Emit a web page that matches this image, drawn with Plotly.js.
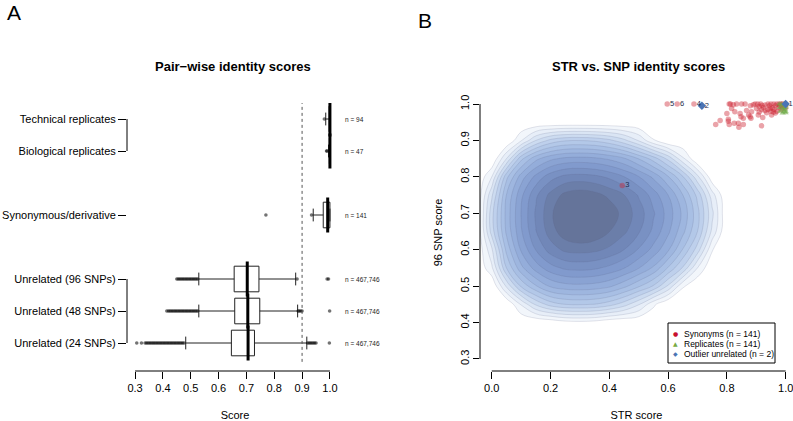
<!DOCTYPE html>
<html><head><meta charset="utf-8">
<script src="https://cdn.plot.ly/plotly-3.0.1.min.js"></script>
<style>html,body{margin:0;padding:0;background:#fff;overflow:hidden}#chart{width:800px;height:421px}</style>
</head><body><div id="chart"></div>
<script>
// ---------- Panel A: pair-wise identity scores ----------
const categories = ['Technical replicates','Biological replicates','Synonymous/derivative','Unrelated (96 SNPs)','Unrelated (48 SNPs)','Unrelated (24 SNPs)'];
const catPos = [8, 7, 5, 3, 2, 1];
const nLabels = ['n = 94','n = 47','n = 141','n = 467,746','n = 467,746','n = 467,746'];
const boxLow    = [0.985, 0.995, 0.940, 0.529, 0.529, 0.482];
const boxQ1     = [0.997, 0.998, 0.976, 0.656, 0.658, 0.646];
const boxMedian = [1.000, 1.000, 0.992, 0.703, 0.705, 0.706];
const boxQ3     = [1.000, 1.000, 1.000, 0.745, 0.748, 0.729];
const boxHigh   = [1.000, 1.000, 1.000, 0.877, 0.884, 0.917];
const outTech = [0.980];
const outBio  = [0.988, 0.990];
const outSyn  = [0.770, 0.934];
const outU96  = [0.450,0.455,0.460,0.465,0.470,0.475,0.480,0.485,0.490,0.495,0.500,0.505,0.510,0.515,0.520,0.525,0.882,0.990,0.995];
const outU48  = [0.414,0.420,0.425,0.430,0.435,0.440,0.445,0.450,0.455,0.460,0.465,0.470,0.475,0.480,0.485,0.490,0.495,0.500,0.505,0.510,0.515,0.520,0.525,0.886,0.890,0.895,0.900,0.999];
const outU24  = [0.306,0.323,0.336,0.341,0.346,0.351,0.356,0.361,0.366,0.371,0.376,0.381,0.386,0.391,0.396,0.401,0.406,0.411,0.416,0.421,0.426,0.431,0.436,0.441,0.446,0.451,0.456,0.461,0.466,0.471,0.476,0.920,0.925,0.930,0.935,0.940,0.945,0.950,0.998];
const identityThreshold = 0.9;
const scoreTicks = [0.3,0.4,0.5,0.6,0.7,0.8,0.9,1.0];

// ---------- Panel B: STR vs SNP identity ----------
const strGrid = [-0.05,0,0.05,0.1,0.15,0.2,0.25,0.3,0.35,0.4,0.45,0.5,0.55,0.6,0.65,0.7,0.75,0.8];
const snpGrid = [0.35,0.4,0.45,0.5,0.55,0.6,0.65,0.7,0.75,0.8,0.85,0.9,0.95];
const densityZ = [
 [0,0,0,0,0,0,0,0,0,0,0,0,0,0,0,0,0,0],
 [0,0,0,0,0,0.17,0.57,0.65,0.52,0.12,0,0,0,0,0,0,0,0],
 [0,0,0,2.1,4.17,5.46,6.0,6.1,5.97,5.43,4.47,3.1,1.22,0,0,0,0,0],
 [0,0,3.17,6.16,7.9,9.17,9.63,9.73,9.6,9.2,8.3,7.15,5.9,3.83,1.15,0,0,0],
 [0,1.8,6.0,8.7,10.47,11.6,12.2,12.33,12.18,11.74,11.06,10.06,8.84,6.92,4.9,2.0,0,0],
 [0,2.8,7.28,10.15,12.05,13.48,14.23,14.38,14.24,13.79,13.0,11.9,10.66,9.17,6.94,4.53,1.08,0],
 [0,4.45,8.2,10.88,12.96,14.5,15.65,16.1,15.77,15.02,14.22,13.12,11.75,10.22,8.3,6.0,2.74,0],
 [0,4.63,8.35,11.05,13.15,14.74,16.3,17.0,16.5,15.67,14.61,13.54,12.13,10.58,8.78,6.34,3.25,0],
 [0,3.8,8.03,10.75,12.8,14.3,15.3,15.62,15.36,14.75,14.02,12.89,11.53,10.0,8.02,5.71,2.45,0],
 [0,2.0,6.7,9.5,11.3,12.6,13.3,13.43,13.27,12.8,12.03,11.06,9.78,8.1,6.12,3.3,0.25,0],
 [0,0,3.0,6.7,8.7,9.75,10.25,10.37,10.23,9.82,9.16,7.95,6.54,4.73,2.22,0,0,0],
 [0,0,0,1.9,4.0,5.3,5.9,5.97,5.8,5.26,4.28,2.9,1.1,0,0,0,0,0],
 [0,0,0,0,0,0,0,0,0,0,0,0,0,0,0,0,0,0]
];
const synSTR = [0.444,0.688,0.597,0.631,0.762,0.777,0.800,0.805,0.805,0.808,0.808,0.812,0.816,0.822,0.825,0.827,0.833,0.839,0.841,0.845,0.848,0.850,0.856,0.856,0.862,0.867,0.874,0.879,0.882,0.884,0.896,0.901,0.907,0.918,0.918,0.922,0.930,0.935,0.947,0.952,0.880,0.890,0.905,0.910,0.915,0.920,0.925,0.940,0.945,0.950,0.955,0.960,0.960,0.965,0.970,0.970,0.975,0.978,0.980,0.985,0.990,0.990,0.995,1.000,1.000,0.958,0.940,0.930,0.910,0.965,0.985,0.950];
const synSNP = [0.776,1.000,1.000,1.000,0.944,0.955,0.974,0.953,0.958,0.944,1.000,1.000,0.988,0.998,0.947,0.979,1.000,0.947,0.936,0.974,0.965,1.000,0.944,0.961,1.000,0.982,0.970,0.965,0.961,0.979,1.000,0.988,0.970,0.984,0.940,0.963,0.997,0.976,0.988,0.970,0.995,0.998,1.000,0.993,1.000,0.996,0.990,1.000,0.995,1.000,0.990,1.000,0.985,0.995,1.000,0.980,0.990,1.000,0.995,1.000,0.990,1.000,0.995,1.000,0.990,0.978,0.985,0.982,0.978,0.975,0.985,0.980];
const repSTR = [0.978,0.980,0.982,0.985,0.988,0.990,0.990,0.993,0.995,0.995,0.998,1.000,1.000,1.000,1.000,1.000];
const repSNP = [1.000,0.990,0.980,1.000,0.995,0.985,0.975,1.000,0.990,0.980,0.985,1.000,0.995,0.990,0.980,0.976];
const outlierSTR = [1.000, 0.715];
const outlierSNP = [1.000, 0.995];
const labelSTR  = [1.000, 0.715, 0.444, 0.688, 0.597, 0.631];
const labelSNP  = [1.000, 0.995, 0.776, 1.000, 1.000, 1.000];
const labelText = ['1','2','3','4','5','6'];
const legendNames = ['Synonyms (n = 141)','Replicates (n = 141)','Outlier unrelated (n = 2)'];
const strTicks = [0,0.2,0.4,0.6,0.8,1.0];
const snpTicks = [0.3,0.4,0.5,0.6,0.7,0.8,0.9,1.0];

const W = 793, H = 421, EXTRA = 7;
const px = v => v / W, py = v => 1 - v / H;
const FONT = 'Liberation Sans, Arial, Helvetica, sans-serif';
const RED = 'rgba(205,35,50,0.42)', GREEN = 'rgba(110,170,70,0.6)', BLUE = '#4a74b4';

// outliers flattened
const outGroups = [outTech, outBio, outSyn, outU96, outU48, outU24];
const outX = [], outY = [];
outGroups.forEach((g, i) => g.forEach(v => { outX.push(v); outY.push(catPos[i]); }));

const traces = [
  {type:'box', orientation:'h', y:catPos, q1:boxQ1, median:boxMedian, q3:boxQ3,
   lowerfence:boxLow, upperfence:boxHigh, width:0.8, whiskerwidth:0.5, boxpoints:false,
   fillcolor:'#ffffff', line:{color:'#222', width:1}, xaxis:'x', yaxis:'y', hoverinfo:'skip', showlegend:false},
  {type:'scatter', mode:'markers', x:boxMedian, y:catPos, xaxis:'x', yaxis:'y', hoverinfo:'skip', showlegend:false,
   marker:{symbol:'line-ns-open', size:25, color:'#000', line:{width:3, color:'#000'}}},
  {type:'scatter', mode:'markers', x:outX, y:outY, xaxis:'x', yaxis:'y', hoverinfo:'skip', showlegend:false,
   marker:{size:3.6, color:'rgba(0,0,0,0.55)'}},
  {type:'contour', x:strGrid, y:snpGrid, z:densityZ, xaxis:'x2', yaxis:'y2', hoverinfo:'skip', showscale:false,
   zauto:false, zmin:0.5, zmax:15.5,
   contours:{start:1, end:15, size:1, coloring:'fill', showlines:true},
   line:{color:'rgba(90,100,135,0.28)', width:0.6, smoothing:1.1},
   colorscale:[[0,'rgba(255,255,255,0)'],[0.0667,'rgb(242,246,251)'],[0.133,'rgb(231,238,248)'],[0.2,'rgb(218,229,244)'],
               [0.267,'rgb(204,219,240)'],[0.333,'rgb(190,208,236)'],[0.467,'rgb(168,191,228)'],[0.6,'rgb(148,173,218)'],
               [0.733,'rgb(129,154,205)'],[0.867,'rgb(113,135,184)'],[1,'rgb(101,116,154)']]},
  {type:'scatter', mode:'markers', name:legendNames[0], x:synSTR, y:synSNP, xaxis:'x2', yaxis:'y2', hoverinfo:'skip', showlegend:false,
   marker:{size:5.5, color:RED}, cliponaxis:false},
  {type:'scatter', mode:'markers', name:legendNames[1], x:repSTR, y:repSNP, xaxis:'x2', yaxis:'y2', hoverinfo:'skip', showlegend:false,
   marker:{size:5.5, symbol:'triangle-up', color:GREEN}, cliponaxis:false},
  {type:'scatter', mode:'markers', name:legendNames[2], x:outlierSTR, y:outlierSNP, xaxis:'x2', yaxis:'y2', hoverinfo:'skip', showlegend:false,
   marker:{size:6.5, symbol:'diamond', color:BLUE}, cliponaxis:false},
  {type:'scatter', mode:'markers+text', x:labelSTR, y:labelSNP, text:labelText, textposition:'middle right',
   textfont:{size:7.5, color:'#1d2b4a', family:FONT}, marker:{size:3, color:'rgba(0,0,0,0)'},
   xaxis:'x2', yaxis:'y2', hoverinfo:'skip', showlegend:false, cliponaxis:false}
];

const axisCommon = {showgrid:false, zeroline:false, showline:false, ticks:'outside', tickcolor:'#000', tickwidth:1,
  tickfont:{size:11, color:'#000', family:FONT}, fixedrange:true, ticklabeloverflow:'allow'};

const layout = {
  width:W + EXTRA, height:H, margin:{l:0,r:EXTRA,t:0,b:0}, paper_bgcolor:'#fff', plot_bgcolor:'rgba(0,0,0,0)',
  font:{family:FONT, color:'#000'}, showlegend:false,
  xaxis: Object.assign({}, axisCommon, {domain:[px(127), px(343)], range:[0.271, 1.047], anchor:'y',
     tickvals:scoreTicks, tickformat:'.1f', ticklen:7,
     title:{text:'Score', font:{size:11, family:FONT}, standoff:19}}),
  yaxis: Object.assign({}, axisCommon, {domain:[py(371), py(103)], range:[0.125, 8.5], anchor:'x',
     tickvals:catPos, ticktext:categories, ticklen:8}),
  xaxis2: Object.assign({}, axisCommon, {domain:[px(480), 1], range:[-0.04, 1.025], anchor:'y2',
     tickvals:strTicks, tickformat:'.1f', ticklen:7,
     title:{text:'STR score', font:{size:11, family:FONT}, standoff:19}}),
  yaxis2: Object.assign({}, axisCommon, {domain:[py(371), py(94)], range:[0.267, 1.0275], anchor:'x2',
     tickvals:snpTicks, tickformat:'.1f', ticklen:6, tickangle:-90,
     title:{text:'96 SNP score', font:{size:11, family:FONT}, standoff:13}}),
  shapes: [
    {type:'line', xref:'x', x0:0.3, x1:1.0, yref:'y domain', y0:0, y1:0, line:{color:'#000', width:1}},
    {type:'line', xref:'x', x0:identityThreshold, x1:identityThreshold, yref:'y', y0:0.41, y1:8.5, line:{color:'#555', width:1, dash:'dot'}},
    {type:'line', xref:'x domain', x0:0, x1:0, yref:'y', y0:catPos[1], y1:catPos[0], line:{color:'#000', width:1}},
    {type:'line', xref:'x domain', x0:0, x1:0, yref:'y', y0:catPos[5], y1:catPos[3], line:{color:'#000', width:1}},
    {type:'line', xref:'x2', x0:0, x1:1, yref:'y2 domain', y0:0, y1:0, line:{color:'#000', width:1}},
    {type:'line', xref:'x2 domain', x0:0, x1:0, yref:'y2', y0:0.3, y1:1.0, line:{color:'#000', width:1}},
    {type:'rect', xref:'paper', yref:'paper', x0:px(668), x1:px(775), y0:py(363), y1:py(323), line:{color:'#000', width:1}, fillcolor:'#fff'}
  ],
  annotations: []
};

const ann = layout.annotations;
ann.push({xref:'paper', yref:'paper', x:px(14), y:py(13), text:'A', showarrow:false, font:{size:21, family:FONT}, xanchor:'center', yanchor:'middle'});
ann.push({xref:'paper', yref:'paper', x:px(425), y:py(21), text:'B', showarrow:false, font:{size:21, family:FONT}, xanchor:'center', yanchor:'middle'});
ann.push({xref:'paper', yref:'paper', x:px(233), y:py(67), text:'<b>Pair\u2212wise identity scores</b>', showarrow:false, font:{size:13, family:FONT}, xanchor:'center', yanchor:'middle'});
ann.push({xref:'paper', yref:'paper', x:px(638), y:py(67), text:'<b>STR vs. SNP identity scores</b>', showarrow:false, font:{size:13, family:FONT}, xanchor:'center', yanchor:'middle'});
categories.forEach((c, i) => ann.push({xref:'x domain', x:1, yref:'y', y:catPos[i], text:nLabels[i], showarrow:false,
  xanchor:'left', yanchor:'middle', font:{size:6.5, color:'#222', family:FONT}}));
const legendColors = ['#c8102e', '#77aa44', BLUE];
const legendGlyphs = ['\u25CF', '\u25B2', '\u25C6'];
const legendRows = [333.5, 343.5, 353.5];
legendNames.forEach((t, i) => {
  ann.push({xref:'paper', yref:'paper', x:px(675), y:py(legendRows[i]), text:legendGlyphs[i], showarrow:false,
    xanchor:'center', yanchor:'middle', font:{size:6, color:legendColors[i], family:'DejaVu Sans'}});
  ann.push({xref:'paper', yref:'paper', x:px(682), y:py(legendRows[i]), text:t, showarrow:false,
    xanchor:'left', yanchor:'middle', font:{size:8.5, color:'#000', family:FONT}});
});

Plotly.newPlot('chart', traces, layout, {staticPlot:true, displayModeBar:false}).then(gd => {
  // Plotly may drop the last STR tick label at the page edge; restore it as text if so.
  const lastTick = strTicks[strTicks.length - 1];
  const want = lastTick.toFixed(1);
  const texts = Array.from(gd.querySelectorAll('g.x2tick text'));
  const hit = texts.find(t => t.textContent === want);
  const shown = hit && hit.getAttribute('display') !== 'none' && hit.style.display !== 'none' &&
                (!hit.parentNode.style || hit.parentNode.style.display !== 'none') && hit.getBBox().width > 0;
  if (!shown) {
    const ref = texts.find(t => t.textContent === strTicks[strTicks.length - 2].toFixed(1));
    const box = ref.getBoundingClientRect(), root = gd.getBoundingClientRect();
    const cy = (box.top + box.bottom) / 2 - root.top;
    Plotly.relayout(gd, {annotations: gd.layout.annotations.concat([{xref:'x2', x:lastTick, yref:'paper', y:py(cy),
      text:want, showarrow:false, xanchor:'center', yanchor:'middle', font:{size:11, color:'#000', family:FONT}}])});
  }
});
</script>
</body></html>
